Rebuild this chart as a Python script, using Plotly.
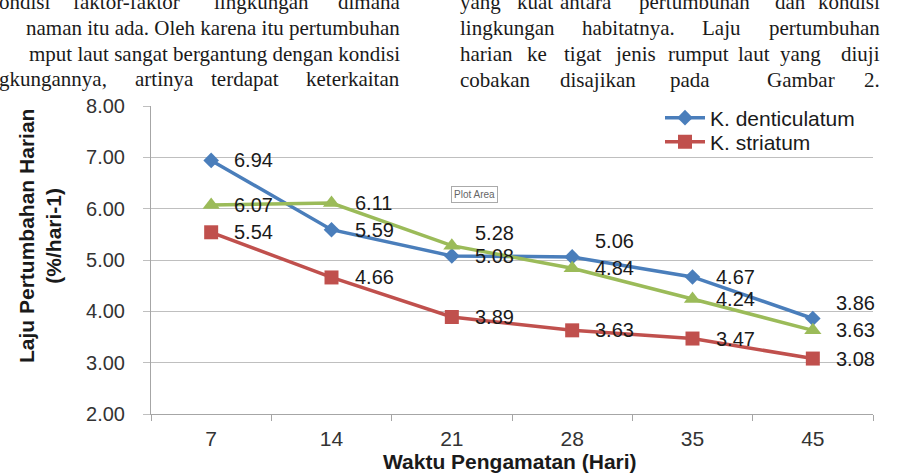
import plotly.graph_objects as go

# ---------------- data ----------------
days = ["7", "14", "21", "28", "35", "45"]
k_denticulatum = [6.94, 5.59, 5.08, 5.06, 4.67, 3.86]
k_striatum = [5.54, 4.66, 3.89, 3.63, 3.47, 3.08]
third_species = [6.07, 6.11, 5.28, 4.84, 4.24, 3.63]
y_tick_vals = [2, 3, 4, 5, 6, 7, 8]
y_tick_text = ["2.00", "3.00", "4.00", "5.00", "6.00", "7.00", "8.00"]

y_title = "Laju Pertumbahan Harian<br>(%/hari-1)"
x_title = "Waktu Pengamatan (Hari)"

# surrounding document text (visible parts)
left_line1 = ["ondisi", "faktor-faktor", "lingkungan", "dimana"]
left_line2 = "naman itu ada. Oleh karena itu pertumbuhan"
left_line3 = "mput laut sangat bergantung dengan kondisi"
left_line4 = ["gkungannya,", "artinya", "terdapat", "keterkaitan"]
right_line1 = ["yang", "kuat", "antara", "pertumbuhan", "dan", "kondisi"]
right_line2 = ["lingkungan", "habitatnya.", "Laju", "pertumbuhan"]
right_line3 = ["harian", "ke", "tigat", "jenis", "rumput", "laut", "yang", "diuji"]
right_line4 = ["cobakan", "disajikan", "pada", "Gambar", "2."]

# ---------------- layout helpers (style) ----------------
W, H = 897, 476
ML, MR, MT, MB = 151, 24, 106, 62
PW, PH = W - ML - MR, H - MT - MB


def px(x):
    return (x - ML) / PW


def py(y):
    return (H - MB - y) / PH


BLUE, RED, GREEN = "#4A7EBB", "#C0504D", "#9BBB59"
SANS = "Liberation Sans, Arial, sans-serif"
SERIF = "Liberation Serif, Times New Roman, serif"
TXT = "#1a1a1a"
DOC_SIZE = 21

fig = go.Figure()
series = [
    ("K. denticulatum", k_denticulatum, BLUE, "diamond", 12, True, "legend"),
    ("K. striatum", k_striatum, RED, "square", 14, True, "legend2"),
    ("Spesies 3", third_species, GREEN, "triangle-up", 15, False, "legend"),
]
for name, vals, col, sym, size, show, lg in series:
    fig.add_trace(go.Scatter(
        x=days, y=vals, name=name, mode="lines+markers",
        line=dict(color=col, width=3.5),
        marker=dict(symbol=sym, size=size, color=col),
        showlegend=show, legend=lg,
    ))

# data-label offsets (style)
label_yshift = {
    0: [0, 0, 0, 16, 0, 16],
    1: [0, 0, 0, 0, 0, 0],
    2: [0, 0, 13, 0, 0, 0],
}
annotations = []
for si, s in enumerate(series):
    vals = s[1]
    for i, v in enumerate(vals):
        annotations.append(dict(
            x=i, y=v, xref="x", yref="y", text=f"{v:.2f}",
            showarrow=False, xanchor="left", yanchor="middle",
            xshift=21, yshift=label_yshift[si][i],
            font=dict(family=SANS, size=20, color=TXT),
        ))

# axis titles
annotations.append(dict(
    x=px(40), y=py(236), xref="paper", yref="paper", text=f"<b>{y_title}</b>",
    textangle=-90, showarrow=False, xanchor="center", yanchor="middle",
    font=dict(family=SANS, size=21, color=TXT), align="center",
))
annotations.append(dict(
    x=px(510), y=py(461), xref="paper", yref="paper", text=f"<b>{x_title}</b>",
    showarrow=False, xanchor="center", yanchor="middle",
    font=dict(family=SANS, size=21, color=TXT),
))

# "Plot Area" tooltip
annotations.append(dict(
    x=px(474), y=py(194), xref="paper", yref="paper", text="Plot Area",
    showarrow=False, xanchor="center", yanchor="middle",
    font=dict(family=SANS, size=10, color="#666"),
    bgcolor="white", bordercolor="#aaa", borderwidth=1, borderpad=2,
))


# document text (justified: first words left-anchored, last word right-anchored)
def words(ws, xs, base, right_end=None):
    n = len(ws)
    for k, (w, x) in enumerate(zip(ws, xs)):
        last = right_end is not None and k == n - 1
        annotations.append(dict(
            x=px(right_end if last else x), y=py(base - 7),
            xref="paper", yref="paper", text=w,
            showarrow=False, xanchor="right" if last else "left", yanchor="middle",
            font=dict(family=SERIF, size=DOC_SIZE, color=TXT),
        ))


words(left_line1, [-3, 71, 212, 336], 9, right_end=402)
for txt, base in [(left_line2, 35), (left_line3, 61)]:
    annotations.append(dict(
        x=px(402), y=py(base - 7), xref="paper", yref="paper", text=txt,
        showarrow=False, xanchor="right", yanchor="middle",
        font=dict(family=SERIF, size=DOC_SIZE, color=TXT),
    ))
words(left_line4, [-3, 133, 209, 286], 86, right_end=402)
words(right_line1, [458, 515, 558, 637, 773, 808], 9, right_end=882)
words(right_line2, [458, 580, 700, 763], 35, right_end=882)
words(right_line3, [458, 525, 562, 613, 666, 736, 778, 838], 61, right_end=882)
words(right_line4, [458, 558, 668, 765, 865], 87, right_end=882)

legend_common = dict(
    xanchor="left", yanchor="middle",
    bgcolor="rgba(0,0,0,0)", borderwidth=0,
    font=dict(family=SANS, size=21, color=TXT),
    itemwidth=40,
)

fig.update_layout(
    width=W, height=H,
    margin=dict(l=ML, r=MR, t=MT, b=MB, pad=0),
    paper_bgcolor="white", plot_bgcolor="white",
    font=dict(family=SANS, color="#333"),
    showlegend=True,
    legend=dict(x=px(660), y=py(118), **legend_common),
    legend2=dict(x=px(660), y=py(142), **legend_common),
    annotations=annotations,
    xaxis=dict(
        type="category", range=[-0.5, 5.5], tickson="boundaries",
        ticks="outside", ticklen=6, tickcolor="#a6a6a6",
        showline=True, linecolor="#a6a6a6", linewidth=1,
        showgrid=False, zeroline=False,
        tickfont=dict(family=SANS, size=21, color="#333"),
        ticklabelstandoff=6,
    ),
    yaxis=dict(
        range=[2, 8], tickmode="array", tickvals=y_tick_vals, ticktext=y_tick_text,
        ticks="outside", ticklen=7, tickcolor="#bfbfbf",
        showgrid=True, gridcolor="#bfbfbf", gridwidth=1,
        showline=True, linecolor="#a6a6a6", linewidth=1, zeroline=False,
        tickfont=dict(family=SANS, size=20, color="#333"),
        ticklabelstandoff=14,
    ),
)

fig.write_html("out.html")
